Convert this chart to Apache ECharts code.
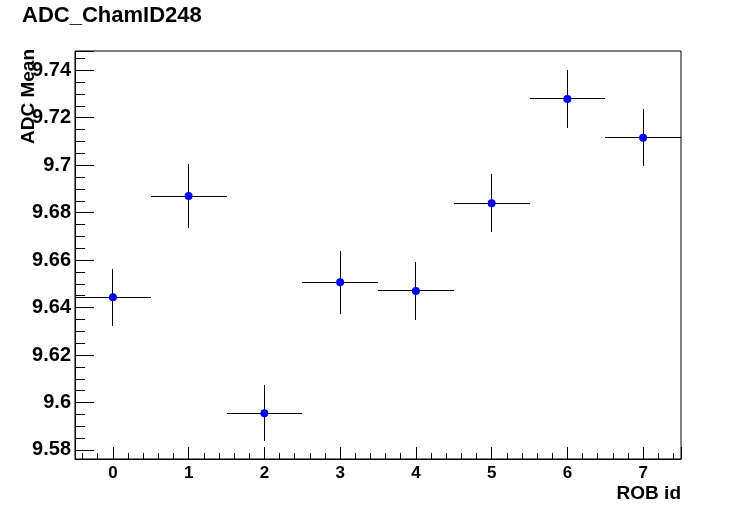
<!DOCTYPE html>
<html>
<head>
<meta charset="utf-8">
<script src="https://cdn.jsdelivr.net/npm/echarts@6/dist/echarts.min.js"></script>
<style>
html,body{margin:0;padding:0;background:#fff;}
#chart{width:756px;height:511px;}
</style>
</head>
<body>
<div id="chart"></div>
<script>
// ---- data ----
const robIds = [0, 1, 2, 3, 4, 5, 6, 7];
const adcMean = [9.6444, 9.6870, 9.5955, 9.6507, 9.6470, 9.6840, 9.7279, 9.7115];
const adcErr = [0.0120, 0.0134, 0.0119, 0.0132, 0.0124, 0.0121, 0.0122, 0.0120];
const robHalfWidth = [0.5, 0.5, 0.5, 0.5, 0.5, 0.5, 0.5, 0.5];
const titleText = 'ADC_ChamID248';
const xTitle = 'ROB id';
const yTitle = 'ADC Mean';
const xRange = [-0.5, 7.5];
const yRange = [9.5762, 9.7481];

const FONT = '"Liberation Sans", Arial, Helvetica, sans-serif';
const points = robIds.map((x, i) => [x, adcMean[i], adcErr[i], robHalfWidth[i]]);

function isMult(v, step) {
  const r = v / step;
  return Math.abs(r - Math.round(r)) < 1e-6;
}
function crisp(v) { return Math.round(v - 0.5) + 0.5; }

const chart = echarts.init(document.getElementById('chart'), null, {renderer: 'canvas'});
const lineStyle = {color: '#000', width: 1};

chart.setOption({
  animation: false,
  backgroundColor: '#fff',
  grid: {left: 75, right: 75, top: 51, bottom: 52, show: true, borderColor: '#000', borderWidth: 1, backgroundColor: 'transparent', containLabel: false},
  xAxis: [
    {
      type: 'value', min: xRange[0], max: xRange[1], splitNumber: 8, position: 'bottom',
      axisLine: {show: true, onZero: false, lineStyle: lineStyle},
      axisTick: {show: true, inside: true, length: 12, lineStyle: lineStyle},
      axisLabel: {
        show: true, margin: 6, color: '#000', fontSize: 17, fontWeight: 'bold', fontFamily: FONT,
        formatter: v => isMult(v, 1) ? String(Math.round(v)) : ''
      },
      splitLine: {show: false}
    },
    {
      type: 'value', min: xRange[0], max: xRange[1], splitNumber: 40, position: 'bottom',
      axisLine: {show: false, onZero: false},
      axisTick: {show: true, inside: true, length: 6, lineStyle: lineStyle},
      axisLabel: {show: false},
      splitLine: {show: false}
    }
  ],
  yAxis: [
    {
      type: 'value', min: yRange[0], max: yRange[1], splitNumber: 8, position: 'left',
      axisLine: {show: true, onZero: false, lineStyle: lineStyle},
      axisTick: {show: true, inside: true, length: 19, lineStyle: lineStyle},
      axisLabel: {
        show: true, margin: 4, color: '#000', fontSize: 20, fontWeight: 'bold', fontFamily: FONT,
        formatter: v => isMult(v, 0.02) ? String(Math.round(v * 100) / 100) : ''
      },
      splitLine: {show: false}
    },
    {
      type: 'value', min: yRange[0], max: yRange[1], splitNumber: 34, position: 'left',
      axisLine: {show: false, onZero: false},
      axisTick: {show: true, inside: true, length: 10, lineStyle: lineStyle},
      axisLabel: {show: false},
      splitLine: {show: false}
    }
  ],
  graphic: [
    {type: 'text', left: 22, top: 5, style: {text: titleText, font: 'bold 22px ' + FONT, fill: '#000'}},
    {type: 'text', right: 75, top: 484, style: {text: xTitle, font: 'bold 19px ' + FONT, fill: '#000'}},
    {type: 'text', x: 29, y: 49, rotation: Math.PI / 2,
     style: {text: yTitle, font: 'bold 19px ' + FONT, fill: '#000', align: 'right', verticalAlign: 'middle'}}
  ],
  series: [
    {
      type: 'custom', xAxisIndex: 0, yAxisIndex: 0, data: points, clip: false, z: 2,
      renderItem: function (params, api) {
        const x = api.value(0), y = api.value(1), e = api.value(2), hw = api.value(3);
        const l = api.coord([x - hw, y]);
        const r = api.coord([x + hw, y]);
        const t = api.coord([x, y + e]);
        const b = api.coord([x, y - e]);
        const cy = crisp(l[1]);
        const cx = crisp(t[0]);
        return {
          type: 'group',
          children: [
            {type: 'line', shape: {x1: Math.round(l[0]), y1: cy, x2: Math.round(r[0]), y2: cy}, style: {stroke: '#000', lineWidth: 1}},
            {type: 'line', shape: {x1: cx, y1: Math.round(t[1]), x2: cx, y2: Math.round(b[1])}, style: {stroke: '#000', lineWidth: 1}}
          ]
        };
      }
    },
    {
      type: 'scatter', xAxisIndex: 0, yAxisIndex: 0, z: 3,
      data: points.map(p => [p[0], p[1]]),
      symbol: 'circle', symbolSize: 8,
      itemStyle: {color: '#0000ff', opacity: 1}
    }
  ]
});
</script>
</body>
</html>
